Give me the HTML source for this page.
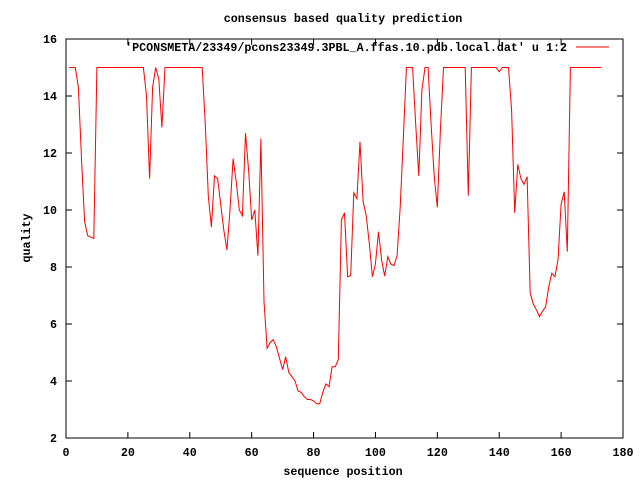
<!DOCTYPE html>
<html><head><meta charset="utf-8"><style>
html,body{margin:0;padding:0;background:#fff}
svg text{font-family:"Liberation Mono",monospace;font-weight:bold;font-size:11.7px;fill:#000}
</style></head><body>
<svg id="chart" width="640" height="480" xmlns="http://www.w3.org/2000/svg">
<rect width="640" height="480" fill="#fff"/>
<text x="343" y="22" text-anchor="middle">consensus based quality prediction</text>
<text x="343" y="475" text-anchor="middle">sequence position</text>
<text transform="translate(30,238) rotate(-90)" text-anchor="middle">quality</text>
<g id="axes"></g>
<g id="series"></g>
<g>
<text x="567" y="51" text-anchor="end">'PCONSMETA/23349/pcons23349.3PBL_A.ffas.10.pdb.local.dat' u 1:2</text>
<line x1="576" y1="47" x2="609" y2="47" stroke="#f00" stroke-width="1"/>
</g>
</svg>
<script>
const xTicks=[0,20,40,60,80,100,120,140,160,180];
const yTicks=[2,4,6,8,10,12,14,16];
const positions=[];for(let i=1;i<=173;i++)positions.push(i);
const quality=[15,15,15,14.3,11.8,9.6,9.1,9.05,9.0,15,
15,15,15,15,15,15,15,15,15,15,
15,15,15,15,15,14,11.1,14.3,15,14.6,
12.9,15,15,15,15,15,15,15,15,15,
15,15,15,15,13,10.5,9.4,11.2,11.1,10.2,
9.3,8.6,10,11.8,11,10,9.8,12.7,11.4,9.65,
10,8.4,12.5,6.8,5.15,5.35,5.45,5.2,4.8,4.4,
4.85,4.3,4.15,4.0,3.65,3.6,3.45,3.35,3.35,3.3,
3.2,3.2,3.6,3.9,3.8,4.5,4.5,4.75,9.65,9.9,
7.66,7.7,10.6,10.4,12.4,10.3,9.8,8.83,7.66,8.1,
9.24,8.25,7.68,8.36,8.1,8.05,8.4,10.1,12.5,15,
15,15,13,11.2,14.2,15,15,13,11.2,10.1,
12.8,15,15,15,15,15,15,15,15,10.5,
15,15,15,15,15,15,15,15,15,14.85,
15,15,15,13.5,9.9,11.6,11.1,10.9,11.17,7.08,
6.7,6.5,6.26,6.45,6.6,7.3,7.78,7.66,8.25,10.2,
10.64,8.54,15,15,15,15,15,15,15,15,
15,15,15];
const L=66,R=623,T=39,B=438;
const xs=v=>L+(v-0)/(180-0)*(R-L);
const ys=v=>B-(v-2)/(16-2)*(B-T);
const NS="http://www.w3.org/2000/svg";
const axes=document.getElementById('axes');
function mk(tag,attrs,parent){const e=document.createElementNS(NS,tag);for(const k in attrs)e.setAttribute(k,attrs[k]);parent.appendChild(e);return e;}
const frame=mk('rect',{x:L,y:T,width:R-L,height:B-T,fill:'none',stroke:'#000','stroke-width':1},axes);


xTicks.forEach(t=>{
 const x=xs(t);
 const a=mk('line',{x1:x,y1:B,x2:x,y2:B-6,stroke:'#000'},axes);
 
 
 const b=mk('line',{x1:x,y1:T,x2:x,y2:T+6,stroke:'#000'},axes);
 
 
 const tx=mk('text',{x:x,y:B+18,'text-anchor':'middle'},axes);tx.textContent=t;
 
 
});
yTicks.forEach(t=>{
 const y=ys(t);
 const a=mk('line',{x1:L,y1:y,x2:L+6,y2:y,stroke:'#000'},axes);
 
 
 const b=mk('line',{x1:R,y1:y,x2:R-6,y2:y,stroke:'#000'},axes);
 
 
 const tx=mk('text',{x:L-9,y:y+4,'text-anchor':'end'},axes);tx.textContent=t;
 
 
});
const pts=positions.map((p,i)=>xs(p).toFixed(1)+','+ys(quality[i]).toFixed(1)).join(' ');
const line=mk('polyline',{points:pts,fill:'none',stroke:'#f00','stroke-width':1},document.getElementById('series'));


</script>
</body></html>
